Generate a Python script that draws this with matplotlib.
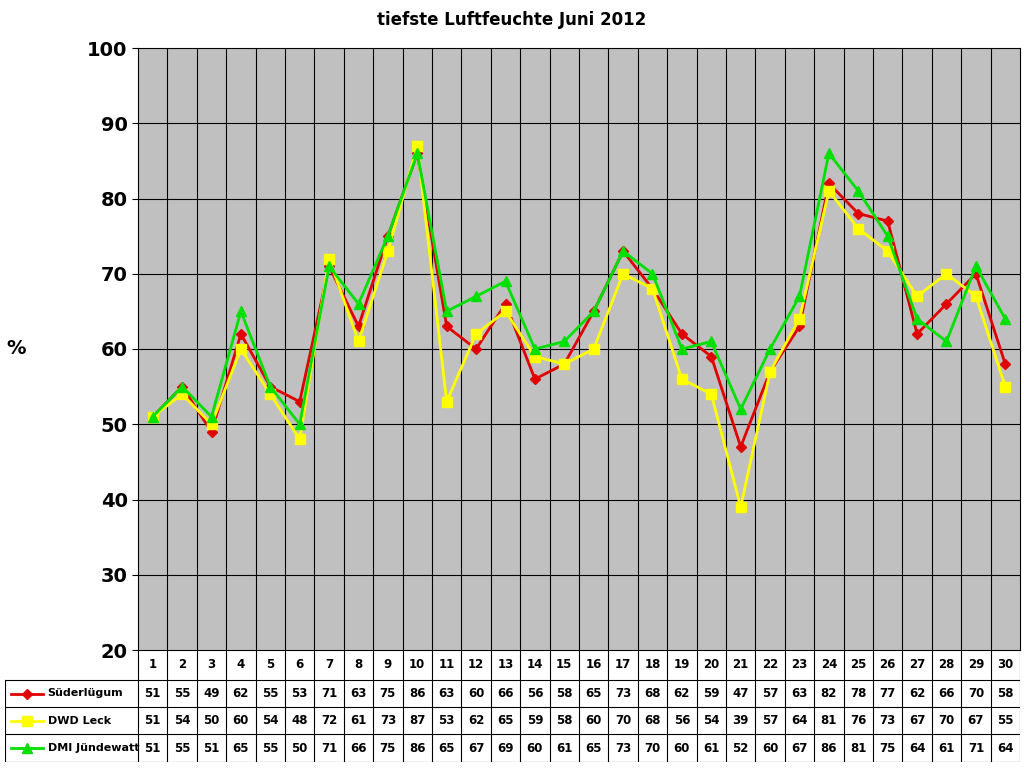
import matplotlib
matplotlib.use("Agg")
import matplotlib.pyplot as plt

days = list(range(1, 31))
sued = [51,55,49,62,55,53,71,63,75,86,63,60,66,56,58,65,73,68,62,59,47,57,63,82,78,77,62,66,70,58]
leck = [51,54,50,60,54,48,72,61,73,87,53,62,65,59,58,60,70,68,56,54,39,57,64,81,76,73,67,70,67,55]
dmi  = [51,55,51,65,55,50,71,66,75,86,65,67,69,60,61,65,73,70,60,61,52,60,67,86,81,75,64,61,71,64]
names = ["Süderlügum", "DWD Leck", "DMI Jündewatt"]
series = [sued, leck, dmi]
colors = ["#E00000", "#FFFF00", "#00E000"]
markers = ["D", "s", "^"]
msizes = [5, 7, 7]

W, H = 1024, 768
fig = plt.figure(figsize=(W/100, H/100), dpi=100)
x0, x1, ytop, ybot = 138, 1020, 48, 650
ax = fig.add_axes([x0/W, 1-ybot/H, (x1-x0)/W, (ybot-ytop)/H])
ax.set_facecolor("#C0C0C0")
ax.set_xlim(0.5, 30.5)
ax.set_ylim(20, 100)
ax.set_yticks(range(20, 101, 10))
ax.tick_params(axis='y', labelsize=14, length=4)
for t in ax.get_yticklabels():
    t.set_fontweight('bold')
ax.set_xticks([])
for v in range(30, 100, 10):
    ax.axhline(v, color='black', lw=0.8, zorder=1)
for i in range(1, 30):
    ax.axvline(i + 0.5, color='black', lw=0.8, zorder=1)
for s, c, m, ms in zip(series, colors, markers, msizes):
    ax.plot(days, s, color=c, marker=m, markersize=ms, lw=2, zorder=3)
fig.text(16/W, 1-349/H, "%", ha='center', va='center', fontsize=14, fontweight='bold')
fig.text(0.5, 1-20/H, "tiefste Luftfeuchte Juni 2012", ha='center', va='center',
         fontsize=12, fontweight='bold')

# table
tl = 5
upp = (x1-x0)/30.0
tab = fig.add_axes([tl/W, 1-762/H, (x1-tl)/W, (762-650)/H])
xl = 0.5 - (x0-tl)/upp
tab.set_xlim(xl, 30.5)
tab.set_ylim(0, 112)
tab.axis('off')
rows_y = [112, 82, 55, 28, 0]
for y in rows_y[1:]:
    tab.plot([xl, 30.5], [y, y], color='black', lw=0.8)
for i in range(0, 31):
    tab.plot([i+0.5, i+0.5], [0, 112], color='black', lw=0.8)
tab.plot([xl, xl], [0, 82], color='black', lw=0.8)
for d in days:
    tab.text(d, 97, str(d), ha='center', va='center', fontsize=8.5, fontweight='bold')
for r, (nm, s, c, m, ms) in enumerate(zip(names, series, colors, markers, msizes)):
    yc = (rows_y[r+1] + rows_y[r+2]) / 2
    tab.plot([xl+0.2, xl+1.3], [yc, yc], color=c, lw=2)
    tab.plot([xl+0.75], [yc], color=c, marker=m, markersize=ms)
    tab.text(xl+1.45, yc, nm, ha='left', va='center', fontsize=8, fontweight='bold')
    for d, v in zip(days, s):
        tab.text(d, yc, str(v), ha='center', va='center', fontsize=8.5, fontweight='bold')

fig.savefig("out.png", dpi=100, facecolor='white')
